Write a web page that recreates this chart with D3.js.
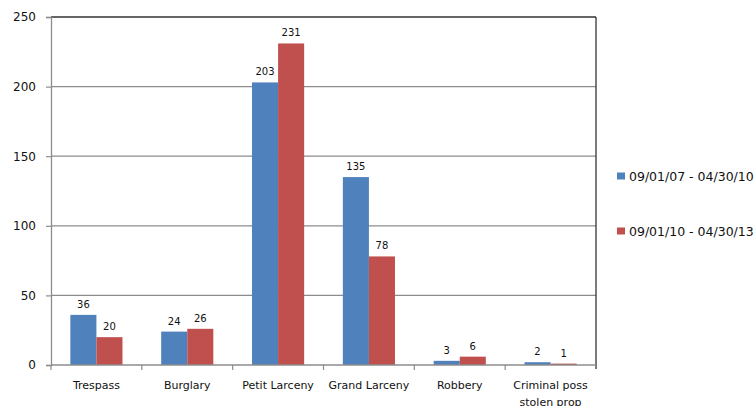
<!DOCTYPE html>
<html>
<head>
<meta charset="utf-8">
<script src="https://cdn.jsdelivr.net/npm/d3@7"></script>
<style>
  html, body { margin: 0; padding: 0; background: #fff; }
  svg { display: block; font-family: "DejaVu Sans", Verdana, sans-serif; }
</style>
</head>
<body>
<svg id="chart" width="755" height="406"></svg>
<script>
// Offence categories and counts for the two reporting periods
const categories = ["Trespass", "Burglary", "Petit Larceny", "Grand Larceny", "Robbery", "Criminal poss\nstolen prop"];
const seriesNames = ["09/01/07 - 04/30/10", "09/01/10 - 04/30/13"];
const period1 = [36, 24, 203, 135, 3, 2];
const period2 = [20, 26, 231, 78, 6, 1];
const yTicks = [0, 50, 100, 150, 200, 250];
const colors = ["#4F81BD", "#C0504D"];

const svg = d3.select("#chart");
const plot = { left: 51, right: 596, top: 17, bottom: 365 };

const x0 = d3.scaleBand().domain(categories).range([plot.left, plot.right]).padding(0);
const barW = x0.bandwidth() * 0.287;
const x1 = d3.scaleBand().domain([0, 1]).range([-barW, barW]);
const y = d3.scaleLinear().domain([0, 250]).range([plot.bottom, plot.top]);

// Horizontal gridlines
svg.append("g")
  .selectAll("line")
  .data(yTicks.filter(t => t > 0 && t < 250))
  .join("line")
  .attr("x1", plot.left).attr("x2", plot.right)
  .attr("y1", d => y(d)).attr("y2", d => y(d))
  .attr("stroke", "#8c8c8c").attr("stroke-width", 1.2);

// Plot frame: dark top and right edges
svg.append("line").attr("x1", plot.left).attr("x2", plot.right)
  .attr("y1", y(250)).attr("y2", y(250)).attr("stroke", "#333").attr("stroke-width", 1.3);
svg.append("line").attr("x1", plot.right).attr("x2", plot.right)
  .attr("y1", plot.top).attr("y2", plot.bottom + 4).attr("stroke", "#333").attr("stroke-width", 1.3);

// Y axis
const yAxis = svg.append("g")
  .attr("transform", `translate(${plot.left},0)`)
  .call(d3.axisLeft(y).tickValues(yTicks).tickSize(5).tickPadding(10));
yAxis.select(".domain").attr("stroke", "#8c8c8c").attr("stroke-width", 1.3);
yAxis.selectAll(".tick line").attr("stroke", "#8c8c8c").attr("stroke-width", 1.2);
yAxis.selectAll(".tick text").attr("font-size", 12).attr("fill", "#111")
  .attr("font-family", "DejaVu Sans, sans-serif");

// Bars
const groups = svg.append("g").selectAll("g")
  .data(categories)
  .join("g")
  .attr("transform", d => `translate(${x0(d) + x0.bandwidth() / 2},0)`);

groups.selectAll("rect")
  .data((d, i) => [period1[i], period2[i]])
  .join("rect")
  .attr("x", (d, j) => x1(j))
  .attr("width", x1.bandwidth())
  .attr("y", d => y(d))
  .attr("height", d => y(0) - y(d))
  .attr("fill", (d, j) => colors[j]);

// Value labels
groups.selectAll("text.val")
  .data((d, i) => [period1[i], period2[i]])
  .join("text")
  .attr("class", "val")
  .attr("x", (d, j) => x1(j) + x1.bandwidth() / 2)
  .attr("y", d => y(d) - 7)
  .attr("text-anchor", "middle")
  .attr("font-size", 10)
  .attr("fill", "#111")
  .text(d => d);

// X axis baseline with tick marks at category boundaries
svg.append("line").attr("x1", plot.left).attr("x2", plot.right)
  .attr("y1", plot.bottom).attr("y2", plot.bottom)
  .attr("stroke", "#8c8c8c").attr("stroke-width", 1.3);
svg.append("g").selectAll("line")
  .data(categories.slice(1))
  .join("line")
  .attr("x1", d => x0(d)).attr("x2", d => x0(d))
  .attr("y1", plot.bottom).attr("y2", plot.bottom + 5)
  .attr("stroke", "#8c8c8c").attr("stroke-width", 1.2);
svg.append("line").attr("x1", plot.left).attr("x2", plot.left)
  .attr("y1", plot.bottom).attr("y2", plot.bottom + 5)
  .attr("stroke", "#8c8c8c").attr("stroke-width", 1.2);

// Category labels
svg.append("g").selectAll("text")
  .data(categories)
  .join("text")
  .attr("x", d => x0(d) + x0.bandwidth() / 2)
  .attr("y", 389)
  .attr("text-anchor", "middle")
  .attr("font-size", 11)
  .attr("fill", "#111")
  .each(function(d) {
    const lines = d.split("\n");
    d3.select(this).selectAll("tspan")
      .data(lines)
      .join("tspan")
      .attr("x", x0(d) + x0.bandwidth() / 2)
      .attr("dy", (l, k) => k === 0 ? 0 : 17)
      .text(l => l);
  });

// Legend
const legend = svg.append("g").selectAll("g")
  .data(seriesNames)
  .join("g")
  .attr("transform", (d, i) => `translate(617,${176 + i * 55})`);
legend.append("rect")
  .attr("x", 0).attr("y", -3.5).attr("width", 8).attr("height", 7)
  .attr("fill", (d, i) => colors[i]);
legend.append("text")
  .attr("x", 12).attr("y", 4.5)
  .attr("font-size", 12.5)
  .attr("fill", "#111")
  .text(d => d);
</script>
</body>
</html>
